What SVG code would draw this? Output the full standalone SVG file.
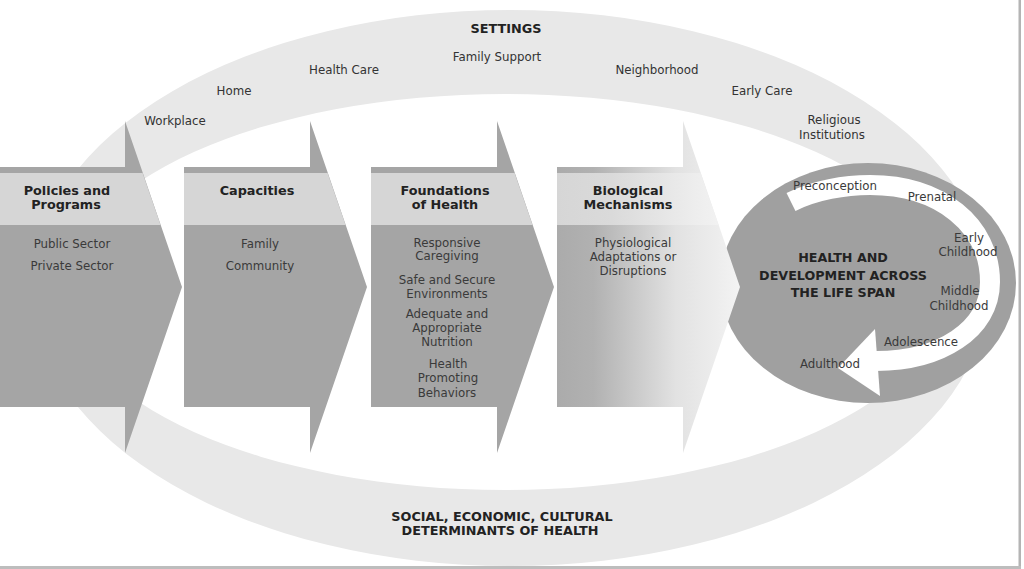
<svg xmlns="http://www.w3.org/2000/svg" width="1024" height="569" viewBox="0 0 1024 569">
<style>
text{font-family:"DejaVu Sans","Open Sans",Arial,sans-serif;text-anchor:middle}
.hdr{font-weight:700;font-size:12.8px;fill:#222}
.txt{font-size:11.8px;fill:#3a3a3a}
.set{font-size:11.8px;fill:#333}
.big{font-weight:700;font-size:12.7px;fill:#222}
.body{fill:#a5a5a5}
.head{fill:#d6d6d6}
</style>
<defs>
<linearGradient id="g4body" gradientUnits="userSpaceOnUse" x1="557" y1="0" x2="740" y2="0">
<stop offset="0" stop-color="#ababab"/>
<stop offset="0.2" stop-color="#b1b1b1"/>
<stop offset="0.65" stop-color="#e2e2e2"/>
<stop offset="1" stop-color="#f3f3f3"/>
</linearGradient>
<linearGradient id="g4head" gradientUnits="userSpaceOnUse" x1="557" y1="0" x2="740" y2="0">
<stop offset="0" stop-color="#d6d6d6"/>
<stop offset="0.3" stop-color="#dadada"/>
<stop offset="0.75" stop-color="#ededed"/>
<stop offset="1" stop-color="#f6f6f6"/>
</linearGradient>
</defs>
<rect width="1024" height="569" fill="#fff"/>
<g id="settings-ring">
<path fill="#e8e8e8" fill-rule="evenodd" d="M32,288 a478,278 0 1,0 956,0 a478,278 0 1,0 -956,0 Z M65,292 a440,198 0 1,0 880,0 a440,198 0 1,0 -880,0 Z"/>
<text class="hdr" x="506" y="33">SETTINGS</text>
<text class="set" x="497" y="61">Family Support</text>
<text class="set" x="344" y="74">Health Care</text>
<text class="set" x="234" y="95">Home</text>
<text class="set" x="175" y="125">Workplace</text>
<text class="set" x="657" y="74">Neighborhood</text>
<text class="set" x="762" y="95">Early Care</text>
<text class="set" x="834" y="124">Religious</text>
<text class="set" x="832" y="139">Institutions</text>
<text class="hdr" x="502" y="521">SOCIAL, ECONOMIC, CULTURAL</text>
<text class="hdr" x="500" y="535">DETERMINANTS OF HEALTH</text>
</g>
<g id="node-health">
<ellipse cx="868" cy="283" rx="148" ry="120" fill="#a0a0a0"/>
<text class="big" x="843" y="262">HEALTH AND</text>
<text class="big" x="843" y="280">DEVELOPMENT ACROSS</text>
<text class="big" x="843" y="297">THE LIFE SPAN</text>
</g>
<g id="connectors">
<path d="M791,202 C815,190 845,185 870,185 C940,185 990,225 990,282 C990,330 940,361 876,361" fill="none" stroke="#fff" stroke-width="20"/>
<polygon points="875,329 880,396 838,368" fill="#fff"/>
</g>
<g id="life-stages">
<text class="txt" x="835" y="190">Preconception</text>
<text class="txt" x="932" y="201">Prenatal</text>
<text class="txt" x="969" y="242">Early</text>
<text class="txt" x="968" y="256">Childhood</text>
<text class="txt" x="960" y="295">Middle</text>
<text class="txt" x="959" y="310">Childhood</text>
<text class="txt" x="921" y="346">Adolescence</text>
<text class="txt" x="830" y="368">Adulthood</text>
</g>
<g id="node-policies">
<polygon class="body" points="-5,167 125,167 125,121 182,287 125,453 125,407 -5,407"/>
<polygon class="head" points="-5,173 142.6,173 160.6,225 -5,225"/>
<text class="hdr" x="67" y="195">Policies and</text>
<text class="hdr" x="66" y="209">Programs</text>
<text class="txt" x="72" y="248">Public Sector</text>
<text class="txt" x="72" y="270">Private Sector</text>
</g>
<g id="node-capacities">
<polygon class="body" points="184,167 310,167 310,121 367,287 310,453 310,407 184,407"/>
<polygon class="head" points="184,173 327.6,173 345.6,225 184,225"/>
<text class="hdr" x="257" y="195">Capacities</text>
<text class="txt" x="260" y="248">Family</text>
<text class="txt" x="260" y="270">Community</text>
</g>
<g id="node-foundations">
<polygon class="body" points="371,167 497,167 497,121 554,287 497,453 497,407 371,407"/>
<polygon class="head" points="371,173 514.6,173 532.6,225 371,225"/>
<text class="hdr" x="445" y="195">Foundations</text>
<text class="hdr" x="445" y="209">of Health</text>
<text class="txt" x="447" y="247">Responsive</text>
<text class="txt" x="447" y="260">Caregiving</text>
<text class="txt" x="447" y="284">Safe and Secure</text>
<text class="txt" x="447" y="298">Environments</text>
<text class="txt" x="447" y="318">Adequate and</text>
<text class="txt" x="447" y="332">Appropriate</text>
<text class="txt" x="447" y="346">Nutrition</text>
<text class="txt" x="448" y="368">Health</text>
<text class="txt" x="448" y="382">Promoting</text>
<text class="txt" x="447" y="397">Behaviors</text>
</g>
<g id="node-biological">
<polygon fill="url(#g4body)" points="557,167 683,167 683,121 740,287 683,453 683,407 557,407"/>
<polygon fill="url(#g4head)" points="557,173 700.6,173 718.6,225 557,225"/>
<text class="hdr" x="628" y="195">Biological</text>
<text class="hdr" x="628" y="209">Mechanisms</text>
<text class="txt" x="633" y="247">Physiological</text>
<text class="txt" x="633" y="261">Adaptations or</text>
<text class="txt" x="633" y="275">Disruptions</text>
</g>
<g id="frame">
<rect x="1018.5" y="0" width="2.5" height="567" fill="#b4b4b4"/>
<rect x="0" y="566" width="1021" height="3" fill="#bdbdbd"/>
</g>
</svg>
